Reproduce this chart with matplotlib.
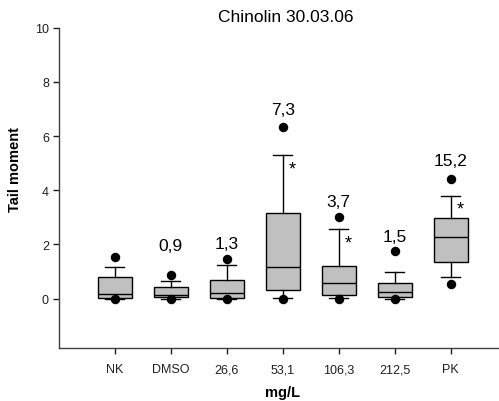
import matplotlib
matplotlib.use("Agg")
import matplotlib.pyplot as plt
from matplotlib.transforms import blended_transform_factory

plt.rcParams['font.family'] = ['Liberation Sans', 'DejaVu Sans']

categories = ["NK", "DMSO", "26,6", "53,1", "106,3", "212,5", "PK"]
whislo = [0.0, 0.0, 0.0, 0.01, 0.04, 0.0, 0.81]
q1 = [0.01, 0.06, 0.04, 0.31, 0.14, 0.06, 1.34]
med = [0.16, 0.14, 0.21, 1.17, 0.57, 0.24, 2.29]
q3 = [0.79, 0.42, 0.70, 3.17, 1.22, 0.57, 2.97]
whishi = [1.17, 0.66, 1.24, 5.31, 2.58, 0.97, 3.78]
out_low = [-0.03, -0.03, -0.03, 0.0, -0.03, -0.03, 0.53]
out_high = [1.55, 0.89, 1.46, 6.35, 3.00, 1.76, 4.40]
annot_labels = ["", "0,9", "1,3", "7,3", "3,7", "1,5", "15,2"]
annot_y = [None, 1.96, 2.02, 6.97, 3.57, 2.31, 5.08]
star_groups = [4, 5, 7]
star_y = [5.11, 2.38, 3.64]

W, H = 499, 402
fig = plt.figure(figsize=(W / 100, H / 100), dpi=100)
ax = fig.add_axes([58.7 / W, 1 - 349 / H, 1 - 58.7 / W, (349 - 28.6) / H])

stats = []
for i, c in enumerate(categories):
    stats.append(dict(label=c, whislo=whislo[i], q1=q1[i], med=med[i],
                      q3=q3[i], whishi=whishi[i],
                      fliers=[out_low[i], out_high[i]]))

positions = list(range(1, len(categories) + 1))
ax.bxp(stats, positions=positions, widths=0.6, capwidths=0.34,
       patch_artist=True, manage_ticks=False,
       boxprops=dict(facecolor='#c0c0c0', edgecolor='black', linewidth=1.0),
       medianprops=dict(color='black', linewidth=1.0),
       whiskerprops=dict(color='black', linewidth=1.0),
       capprops=dict(color='black', linewidth=1.0),
       flierprops=dict(marker='o', markerfacecolor='black',
                       markeredgecolor='black', markersize=5.8, linestyle='none'))

ax.set_xlim(0, (W - 58.7) / 56)
ax.set_ylim(-1.82, 10)
ax.set_xticks(positions)
ax.set_xticklabels(categories)
ax.set_yticks([0, 2, 4, 6, 8, 10])
ax.tick_params(axis='both', direction='out', length=4, width=1,
               labelsize=9, colors='#202020', pad=3)
ax.tick_params(axis='x', pad=7)
for s in ['top', 'right']:
    ax.spines[s].set_visible(False)
for s in ['left', 'bottom']:
    ax.spines[s].set_color('#404040')
    ax.spines[s].set_linewidth(1.0)

for i, (lab, y) in enumerate(zip(annot_labels, annot_y)):
    if lab:
        ax.text(positions[i], y, lab, ha='center', va='center', fontsize=12.5)
for g, y in zip(star_groups, star_y):
    ax.text(g + 0.17, y, "*", ha='center', va='top', fontsize=13)

tr = blended_transform_factory(ax.transData, fig.transFigure)
fig.text(4.05, 1 - 17 / H, "Chinolin 30.03.06", ha='center', va='center',
         fontsize=12.5, transform=tr)
fig.text(4.0, 1 - 393 / H, "mg/L", ha='center', va='center',
         fontsize=10.5, fontweight='bold', transform=tr)
fig.text(15.5 / W, 1 - 170 / H, "Tail moment", rotation=90, ha='center',
         va='center', fontsize=10.5, fontweight='bold')

fig.savefig("out.png", dpi=100)
